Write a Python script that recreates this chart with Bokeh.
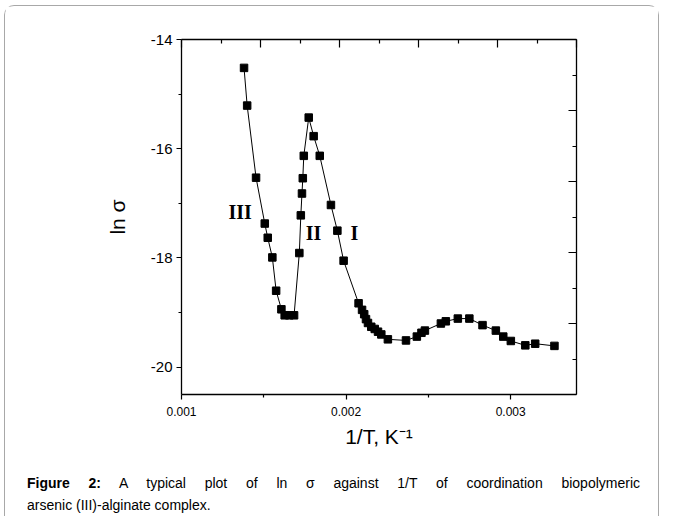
from bokeh.plotting import figure
from bokeh.models import (LinearAxis, FixedTicker, Label, Div, Range1d, NumeralTickFormatter,
                          CustomJSTickFormatter, Spacer)
from bokeh.layouts import column, row
from bokeh.embed import file_html
from bokeh.resources import INLINE

# ---- data (1/T in K^-1, ln sigma) ----
inv_T = [0.001380, 0.001399, 0.001453, 0.001506, 0.001524, 0.001552, 0.001575,
         0.001607, 0.001627, 0.001655, 0.001684,
         0.001716, 0.001725, 0.001732, 0.001737, 0.001743, 0.001773,
         0.001803, 0.001840, 0.001908, 0.001947, 0.001985, 0.002076, 0.002097,
         0.002110, 0.002121, 0.002133, 0.002153, 0.002174, 0.002194, 0.002214,
         0.002254, 0.002364, 0.002430, 0.002458, 0.002479, 0.002576, 0.002606,
         0.002679, 0.002749, 0.002829, 0.002910, 0.002955, 0.003001, 0.003089,
         0.003149, 0.003266]
ln_sigma = [-14.52, -15.21, -16.53, -17.37, -17.63, -17.99, -18.60,
            -18.94, -19.05, -19.05, -19.05,
            -17.91, -17.22, -16.82, -16.54, -16.13, -15.43,
            -15.77, -16.13, -17.03, -17.50, -18.05, -18.83, -18.95,
            -19.03, -19.12, -19.19, -19.26, -19.30, -19.35, -19.40,
            -19.49, -19.51, -19.44, -19.37, -19.33, -19.20, -19.16,
            -19.11, -19.11, -19.23, -19.33, -19.44, -19.52, -19.60,
            -19.57, -19.61]

region_labels = ["III", "II", "I"]
region_x = [0.001356, 0.001802, 0.002051]
region_y = [-17.15, -17.545, -17.545]

x_major = [0.001, 0.002, 0.003]
x_minor = [0.0015, 0.0025]
y_major = [-20, -18, -16, -14]
y_minor = [-19, -17, -15]
top_major = [0.001, 0.00148, 0.00196, 0.00244, 0.00292, 0.0034]
top_minor = [0.00124, 0.00172, 0.0022, 0.00268, 0.00316]
right_major = [-14.0, -15.3, -16.6, -17.9, -19.2, -20.5]
right_minor = [-14.65, -15.95, -17.25, -18.55, -19.85]

FONT = "Liberation Sans"

p = figure(x_range=Range1d(0.001, 0.0034), y_range=Range1d(-20.5, -14),
           frame_width=395, frame_height=355,
           min_border_left=176, min_border_right=82, min_border_top=33, min_border_bottom=66,
           output_backend="svg", toolbar_location=None,
           x_axis_label="1/T, K\u207b\u00b9", y_axis_label="ln \u03c3")
p.grid.visible = False
p.outline_line_color = None
p.background_fill_color = "white"
p.border_fill_color = "white"

for ax in (p.xaxis[0], p.yaxis[0]):
    ax.axis_line_width = 1.3
    ax.major_tick_in = 0
    ax.major_tick_out = 5
    ax.minor_tick_in = 0
    ax.minor_tick_out = 3
    ax.major_tick_line_width = 1.2
    ax.minor_tick_line_width = 1.2
    ax.axis_label_text_font = FONT
    ax.axis_label_text_font_style = "normal"
    ax.axis_label_text_font_size = "21px"
    ax.major_label_text_font = FONT
    ax.major_label_text_color = "black"
    ax.axis_label_text_color = "black"

p.xaxis[0].ticker = FixedTicker(ticks=x_major, minor_ticks=x_minor)
p.xaxis[0].formatter = NumeralTickFormatter(format="0.000")
p.xaxis[0].major_label_text_font_size = "12px"
p.xaxis[0].major_label_standoff = 7
p.xaxis[0].axis_label_standoff = 6

p.yaxis[0].ticker = FixedTicker(ticks=y_major, minor_ticks=y_minor)
p.yaxis[0].formatter = NumeralTickFormatter(format="0")
p.yaxis[0].major_label_text_font_size = "15px"
p.yaxis[0].major_label_standoff = 4
p.yaxis[0].axis_label_standoff = 19

blank = CustomJSTickFormatter(code="return ''")
top = LinearAxis(ticker=FixedTicker(ticks=top_major, minor_ticks=top_minor), formatter=blank)
right = LinearAxis(ticker=FixedTicker(ticks=right_major, minor_ticks=right_minor), formatter=blank)
for ax in (top, right):
    ax.axis_line_width = 1.3
    ax.major_tick_in = 8
    ax.major_tick_out = 0
    ax.minor_tick_in = 4
    ax.minor_tick_out = 0
    ax.major_tick_line_width = 1.2
    ax.minor_tick_line_width = 1.2
    ax.major_label_standoff = 0
p.add_layout(top, "above")
p.add_layout(right, "right")

p.line(inv_T, ln_sigma, line_color="black", line_width=1)
p.scatter(inv_T, ln_sigma, marker="square", size=7.5, fill_color="black", line_color="black")

for t, lx, ly in zip(region_labels, region_x, region_y):
    p.add_layout(Label(x=lx, y=ly, text=t, text_font="Liberation Serif", text_font_style="bold",
                       text_font_size="20px", text_align="center", text_baseline="middle",
                       text_color="black"))

caption_html = (
    '<div style="font-family:\'Liberation Sans\',Arial,sans-serif;font-size:14px;line-height:22px;color:#000;width:613px">'
    '<div style="text-align:justify;text-align-last:justify"><b>Figure 2:</b> A typical plot of ln \u03c3 against 1/T of coordination biopolymeric</div>'
    '<div>arsenic (III)-alginate complex.</div></div>'
)
cap = Div(text=caption_html, width=615, margin=(12, 0, 0, 22))

box = column(p, cap,
             styles={"border-top": "1px solid #a8a8a8", "border-left": "1px solid #a8a8a8",
                     "border-right": "1px solid #a8a8a8", "border-top-left-radius": "10px",
                     "border-top-right-radius": "10px"})

layout = column(Spacer(height=5), row(Spacer(width=4), box))

open("out.html", "w").write(file_html(layout, INLINE))
